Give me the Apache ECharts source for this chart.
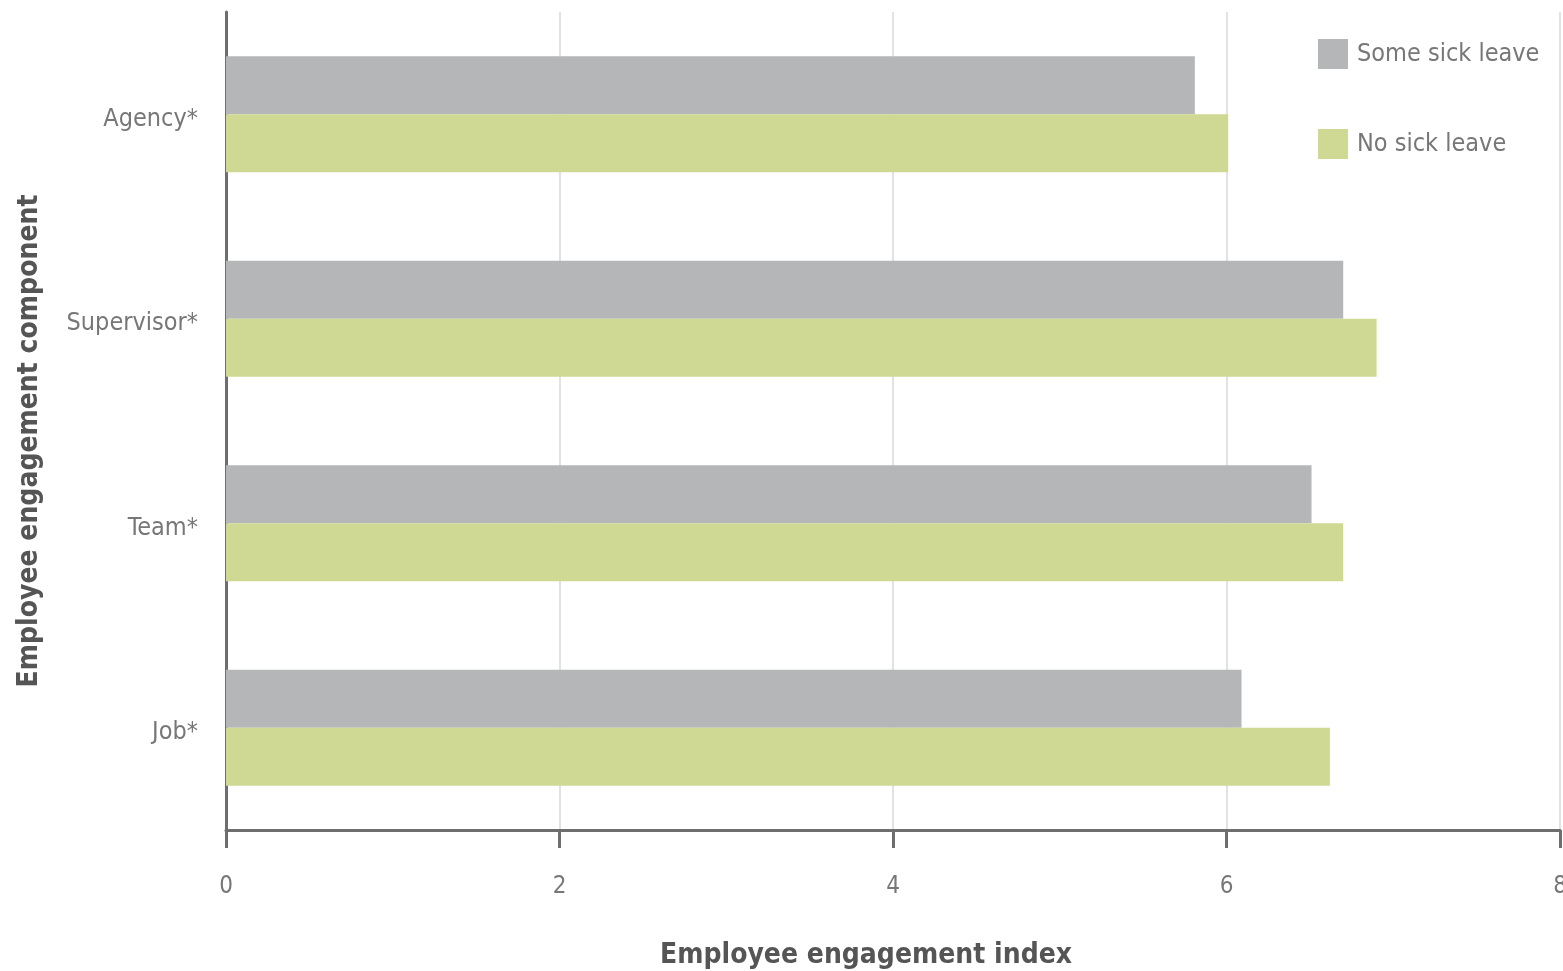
<html lang="en">
<head>
  <meta charset="utf-8"/>
  <script src="https://cdn.jsdelivr.net/npm/echarts@6/dist/echarts.min.js"></script>
  <style>
    html, body { margin: 0; padding: 0; background: #fff; }
    #chart { width: 1563px; height: 971px; }
  </style>
</head>
<body>
<div id="chart"></div>
<script>
    // data
    var categories = ['Agency*', 'Supervisor*', 'Team*', 'Job*'];
    var someSickLeave = [5.81, 6.70, 6.51, 6.09];
    var noSickLeave = [6.01, 6.90, 6.70, 6.62];
    var seriesNames = ['Some sick leave', 'No sick leave'];

    var font = '"Liberation Sans Narrow", "DejaVu Sans Condensed", "Liberation Sans", sans-serif';
    var axisColor = '#6e6e6e';

    var myChart = echarts.init(document.getElementById('chart'));
    var option = {
        backgroundColor: '#fff',
        animation: false,
        textStyle: { fontFamily: font },
        grid: { left: 226, right: 3, top: 12, bottom: 141, outerBoundsMode: 'none', containLabel: false },
        legend: {
            orient: 'vertical',
            left: 1313,
            top: 34,
            itemWidth: 30,
            itemHeight: 30,
            itemGap: 60,
            icon: 'rect',
            textStyle: { color: '#777', fontSize: 25, fontFamily: font, padding: [0, 0, 0, 4] },
            data: seriesNames
        },
        xAxis: {
            type: 'value',
            min: 0,
            max: 8,
            interval: 2,
            name: 'Employee engagement index',
            nameLocation: 'middle',
            nameGap: 112,
            nameTextStyle: { color: '#555', fontSize: 28, fontWeight: 'bold', padding: [0, 54, 0, 0] },
            axisLine: { show: true, onZero: false, lineStyle: { color: axisColor, width: 3 } },
            axisTick: { show: true, inside: false, length: 18, lineStyle: { color: axisColor, width: 3 } },
            axisLabel: { color: '#777', fontSize: 24, margin: 45 },
            splitLine: { show: true, lineStyle: { color: '#e2e2e2', width: 2 } }
        },
        yAxis: {
            type: 'category',
            inverse: true,
            data: categories,
            name: 'Employee engagement component',
            nameLocation: 'middle',
            nameGap: 182,
            nameTextStyle: { color: '#555', fontSize: 28, fontWeight: 'bold', padding: [0, 40, 0, 0] },
            axisLine: { show: true, lineStyle: { color: axisColor, width: 3 } },
            axisTick: { show: false },
            axisLabel: {
                color: '#777',
                fontSize: 25,
                margin: 28,
                formatter: function (v) { return '{a|' + v + '}'; },
                rich: { a: { color: '#777', fontSize: 25, fontFamily: font, padding: [10, 0, 0, 0] } }
            },
            splitLine: { show: false }
        },
        series: [
            {
                name: seriesNames[0],
                type: 'bar',
                barWidth: 58,
                barGap: '0%',
                itemStyle: { color: '#b5b6b8' },
                data: someSickLeave
            },
            {
                name: seriesNames[1],
                type: 'bar',
                barWidth: 58,
                barGap: '0%',
                itemStyle: { color: '#d0d993' },
                data: noSickLeave
            }
        ]
    };
    myChart.setOption(option);
</script>
</body>
</html>
